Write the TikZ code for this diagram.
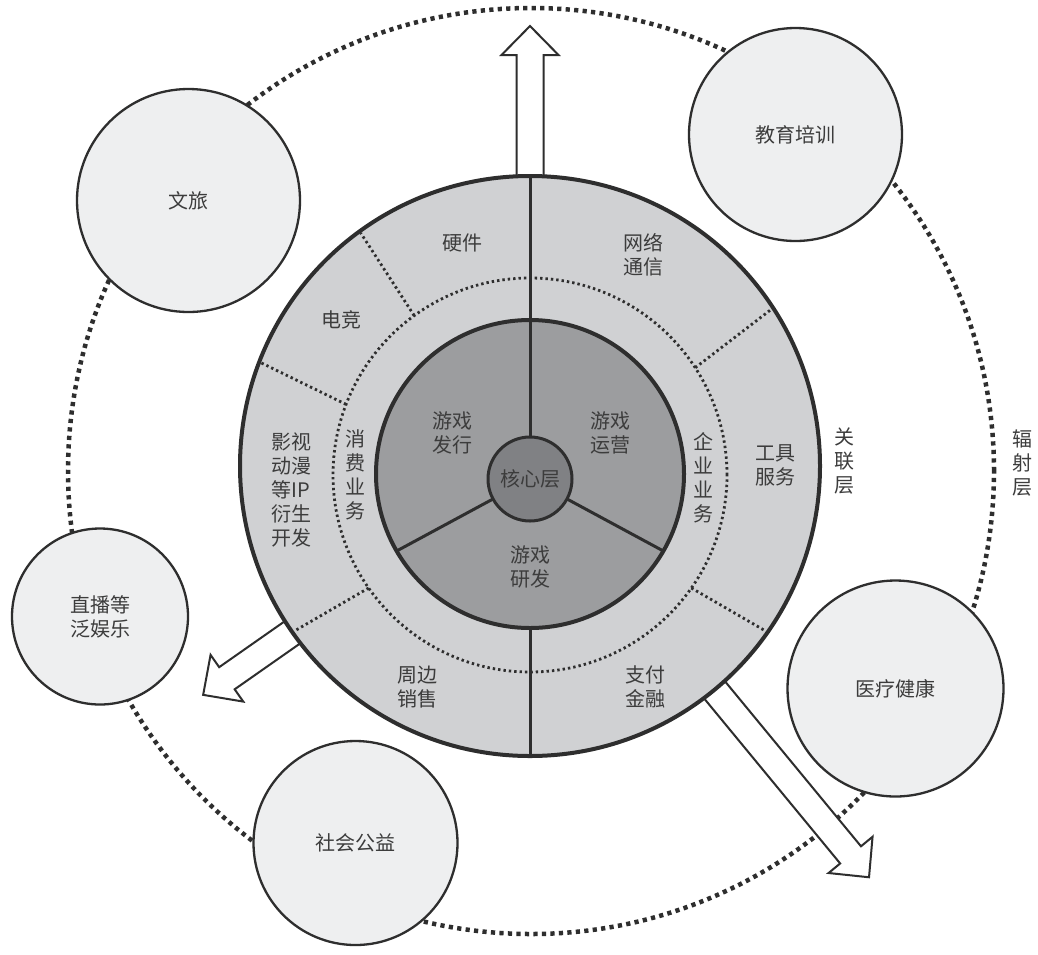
\documentclass[tikz,border=0pt]{standalone}
\usepackage{fontspec}
\setmainfont{Noto Sans CJK SC}
\usetikzlibrary{calc}
\definecolor{linegray}{HTML}{2E2E2E}
\definecolor{ringgray}{HTML}{D0D1D3}
\definecolor{coregray}{HTML}{9C9D9F}
\definecolor{centergray}{HTML}{808184}
\definecolor{satgray}{HTML}{EEEFF0}
\definecolor{labeltext}{HTML}{3C3C3C}

% block arrow leaving the main disc: angle, neck distance, tip distance
\newcommand{\outarrow}[3]{%
  \draw[blockarrow, shift={(mc)}, rotate=#1]
    (270pt,13.5pt) -- (#2pt,13.5pt) -- (#2pt,28.5pt) -- (#3pt,0pt)
    -- (#2pt,-28.5pt) -- (#2pt,-13.5pt) -- (270pt,-13.5pt) -- cycle;}

\begin{document}
\begin{tikzpicture}[x=1pt, y=-1pt,
  sat/.style={circle, draw=linegray, line width=2.3pt, fill=satgray, inner sep=0pt,
    text=labeltext, font=\fontsize{20}{24}\selectfont, align=center},
  lbl/.style={text=labeltext, font=\fontsize{20}{24}\selectfont, align=center, inner sep=0pt},
  ringdots/.style={draw=linegray, line width=2.8pt, dash pattern=on 2.4pt off 3pt},
  bigdots/.style={draw=linegray, line width=4.5pt, dash pattern=on 4.2pt off 4.3pt},
  blockarrow/.style={draw=linegray, fill=white, line width=2pt, line join=miter}]

\fill[white] (0,0) rectangle (1038,954);
\useasboundingbox (0,0) rectangle (1038,954);

\coordinate (mc) at (530,466);
\coordinate (dc) at (530,475);
\coordinate (kc) at (530,474);
\coordinate (cc) at (530,479);

% radiation layer
\draw[bigdots] (531,471) circle[radius=463pt];

\node[sat, minimum size=223pt] (wenlv) at (188.5,200.5) {文旅};
\node[sat, minimum size=213pt] (jiaoyu) at (795.5,134.5) {教育培训};
\node[sat, minimum size=176pt] (zhibo) at (100,616.5) {直播等\\泛娱乐};
\node[sat, minimum size=204pt] (gongyi) at (355.5,843) {社会公益};
\node[sat, minimum size=216pt] (yiliao) at (895.5,688.5) {医疗健康};

\outarrow{90}{411}{440}
\outarrow{215}{370}{399}
\outarrow{-50.5}{504}{533}

% related layer
\filldraw[fill=ringgray, draw=linegray, line width=4pt] (mc) circle[radius=290pt];
\draw[ringdots] (dc) circle[radius=197pt];
\foreach \a in {126,159,215,33,-35}
  \draw[ringdots] ($(dc)+(\a:197pt)$) -- ($(mc)+(\a:288pt)$);
\draw[linegray, line width=3pt] ($(mc)+(90:288pt)$) -- ($(mc)+(270:288pt)$);

% core layer
\filldraw[fill=coregray, draw=linegray, line width=4pt] (kc) circle[radius=154pt];
\draw[linegray, line width=3pt] (cc) -- ($(kc)+(90:154pt)$);
\draw[linegray, line width=3pt] (cc) -- ($(kc)+(210:154pt)$);
\draw[linegray, line width=3pt] (cc) -- ($(kc)+(330:154pt)$);
\filldraw[fill=centergray, draw=linegray, line width=3pt] (cc) circle[radius=42pt];

\node[lbl] (hexin) at (cc) {核心层};
\node[lbl] (faxing) at (452,433) {游戏\\发行};
\node[lbl] (yunying) at (610,433) {游戏\\运营};
\node[lbl] (yanfa) at (530,567) {游戏\\研发};

\node[lbl] (yingjian) at (462,243) {硬件};
\node[lbl] (dianjing) at (341,320) {电竞};
\node[lbl] (yingshi) at (291,490) {影视\\动漫\\等IP\\衍生\\开发};
\node[lbl] (xiaofei) at (355,475) {消\\费\\业\\务};
\node[lbl] (wangluo) at (643,255) {网络\\通信};
\node[lbl] (gongju) at (775,465) {工具\\服务};
\node[lbl] (qiye) at (703,478) {企\\业\\业\\务};
\node[lbl] (zhoubian) at (417,687) {周边\\销售};
\node[lbl] (zhifu) at (645,687) {支付\\金融};

\node[lbl] (guanlian) at (844,461) {关\\联\\层};
\node[lbl] (fushe) at (1022,463) {辐\\射\\层};
\end{tikzpicture}
\end{document}
